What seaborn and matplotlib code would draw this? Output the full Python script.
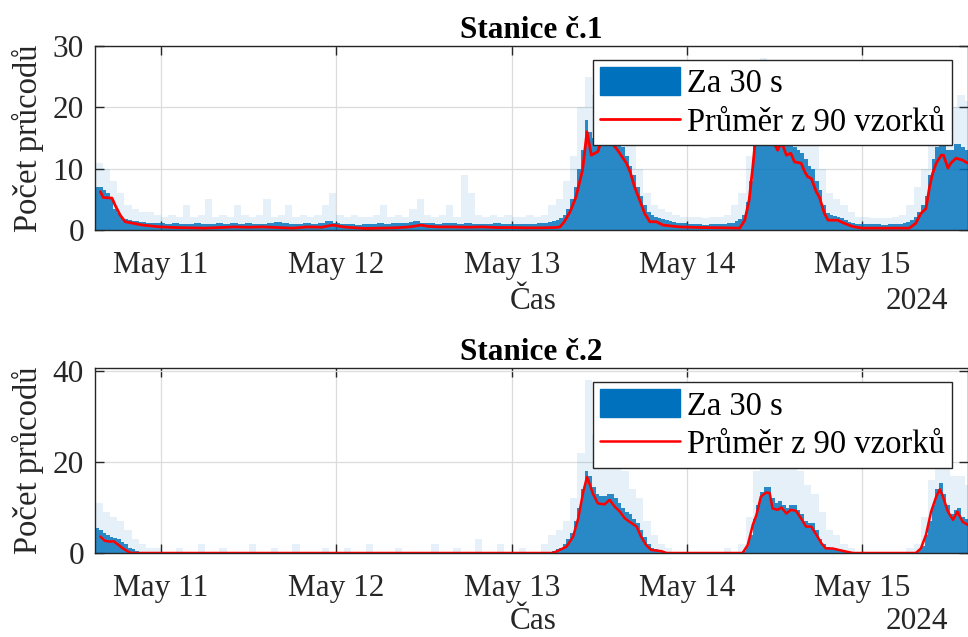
import numpy as np
import pandas as pd
import matplotlib
matplotlib.use("Agg")
import matplotlib.pyplot as plt
import matplotlib.dates as mdates
from matplotlib.patches import Patch
from matplotlib.lines import Line2D
import seaborn as sns

# ---------------- data (hours relative to 2024-05-11 00:00) ----------------
BASE = "2024-05-11 00:00"
core_hours = [h / 2 for h in range(-18, 222)]   # half-hour slots, dense part of the 30 s bars
spike_hours = list(range(-9, 111))              # hourly slots, faint peaks of the 30 s bars

s1_core = [7.0, 7.0, 6.5, 6.0, 5.0, 3.5, 2.8, 2.0, 1.8, 1.6, 1.5, 1.4, 1.3, 1.3, 1.2, 1.2, 1.2, 1.1, 1.2, 1.0, 1.0, 1.1, 1.1, 0.9,
           0.9, 1.0, 1.0, 1.1, 1.2, 1.0, 1.0, 0.9, 0.9, 1.1, 1.1, 1.0, 1.0, 1.2, 1.2, 1.0, 1.0, 1.1, 1.1, 0.9, 0.9, 1.0, 1.0, 1.2,
           1.2, 1.3, 1.3, 1.1, 1.1, 1.0, 1.0, 0.9, 0.9, 1.1, 1.1, 1.0, 1.0, 1.2, 1.2, 1.4, 1.4, 1.2, 1.1, 1.0, 1.0, 0.9, 0.9, 0.8,
           0.8, 0.9, 0.9, 1.0, 1.0, 1.1, 1.1, 1.0, 1.0, 1.2, 1.2, 1.1, 1.1, 1.2, 1.3, 1.5, 1.5, 1.2, 1.2, 1.1, 1.1, 1.0, 1.0, 1.1,
           1.1, 1.2, 1.2, 1.0, 1.0, 1.1, 1.1, 1.0, 1.0, 0.9, 0.9, 1.0, 1.0, 1.1, 1.1, 1.0, 1.0, 1.0, 1.0, 1.0, 0.9, 0.9, 0.9, 1.0,
           1.0, 1.1, 1.1, 1.2, 1.3, 1.4, 1.6, 2.0, 2.5, 3.5, 5.0, 7.0, 10.0, 13.0, 18.0, 16.0, 15.0, 16.0, 17.0, 17.0, 17.0, 16.0, 15.5, 14.5,
           13.5, 12.0, 10.5, 9.0, 7.0, 5.5, 4.0, 3.0, 2.4, 2.2, 2.0, 1.8, 1.6, 1.5, 1.3, 1.2, 1.2, 1.1, 1.0, 0.9, 0.9, 0.9, 0.8, 0.8,
           0.9, 0.9, 0.9, 1.0, 1.0, 1.1, 1.2, 1.5, 1.8, 2.5, 4.5, 8.0, 14.0, 17.0, 17.0, 17.0, 17.0, 16.0, 16.0, 16.0, 15.0, 14.5, 14.5, 13.5,
           13.0, 12.5, 11.5, 10.5, 10.0, 8.0, 6.5, 4.0, 2.8, 2.4, 2.3, 2.2, 1.9, 1.6, 1.3, 1.1, 1.0, 1.0, 1.0, 0.9, 0.9, 0.9, 0.9, 0.8,
           0.8, 0.9, 0.9, 1.0, 1.0, 1.1, 1.3, 1.6, 2.2, 3.0, 4.0, 5.5, 9.0, 11.5, 13.5, 14.5, 14.5, 13.0, 13.0, 14.0, 14.0, 13.5, 13.0, 13.0]
s1_spike = [11, 10, 8, 6, 4, 3.5, 3, 3, 2.5,
            2.2, 2.5, 2.2, 4, 2.2, 2.5, 5, 2.2, 2.5, 2.2, 4, 2.5, 2.2, 2.5, 5, 2.2, 2.5, 4, 2.2, 2.5, 2.2, 2.5, 4, 6,
            2.5, 2.2, 2.5, 2.2, 2.2, 2.5, 4, 2.2, 2.5, 2.2, 3.5, 5, 2.5, 2.2, 2.5, 4, 2.2, 9, 6, 2.5, 2.2, 2.5, 2.2, 2.5,
            2.2, 2.2, 2.5, 2.2, 2.5, 4, 5, 8, 12, 20, 25, 22, 22, 22, 20, 17, 14, 10, 6, 4, 3.5, 3, 2.5, 2.2,
            2.2, 2.2, 2, 2.2, 2.2, 2.5, 4, 6, 12, 24, 28, 26, 24, 22, 20, 19, 17, 14, 10, 6, 5, 4, 3, 2.2,
            2.2, 2, 2, 2, 2.2, 2.5, 4, 7, 10, 17, 22, 22, 20, 22, 21]
s1_mean_h = [-8.3, -7.9, -6.7, -6.3, -5.6, -4.9, -3.8, -2.5, -0.5,
             0, 2, 4, 6, 8, 10, 12, 14, 16, 18, 20, 22, 23.5, 25, 26, 28, 30, 32, 34, 35.6, 36.5, 38, 40, 42, 44, 46, 48, 50, 52, 54,
             54.6, 55.2, 56.0, 56.8, 57.7, 58.3, 58.9, 59.8, 60.3, 60.8, 61.4, 61.9, 62.5, 63.7, 64.2, 64.8, 65.5, 66.2, 66.9, 67.8, 68.7,
             71.0, 74.0, 77.0, 79.2, 79.9, 80.5, 81.0, 81.3, 81.8, 82.5, 83.2, 83.7, 84.4, 84.9, 85.6, 86.2, 86.7, 87.6, 88.1, 88.5,
             89.0, 89.7, 90.1, 90.8, 91.3, 92.6, 93.5, 94.7, 96.0, 99.0, 102.4, 103.3, 104.0, 104.7, 105.2, 105.6, 106.1, 106.8,
             107.1, 107.7, 108.1, 108.8, 109.7, 110.4]
s1_mean_v = [6.25, 5.3, 5.2, 4.1, 2.45, 1.35, 1.1, 0.8, 0.55,
             0.5, 0.4, 0.35, 0.3, 0.4, 0.5, 0.45, 0.5, 0.4, 0.3, 0.5, 0.45, 0.8, 0.5, 0.4, 0.25, 0.3, 0.35, 0.5, 0.8, 0.6, 0.5, 0.5, 0.45, 0.5, 0.4, 0.4, 0.35, 0.35, 0.4,
             0.5, 1.35, 3.0, 5.4, 9.8, 16.0, 12.2, 12.8, 14.7, 15.5, 15.0, 13.9, 13.0, 10.9, 9.5, 7.1, 4.9, 2.7, 1.35, 1.35, 0.8,
             0.5, 0.4, 0.35, 0.3, 1.6, 4.9, 10.3, 14.1, 15.5, 15.0, 15.5, 14.7, 13.0, 14.4, 12.2, 12.5, 11.1, 10.9, 9.5, 8.7,
             8.4, 6.2, 5.4, 2.7, 1.6, 1.6, 1.1, 0.55, 0.3, 0.3, 0.3, 1.1, 2.7, 3.5, 7.1, 9.2, 10.9, 12.2,
             12.2, 10.1, 10.9, 11.7, 11.4, 10.9]

s2_core = [5.5, 5.0, 4.5, 4.0, 3.5, 3.2, 3.0, 2.4, 2.0, 1.2, 0.8, 0.4, 0.3, 0.2, 0.2, 0.1, 0.1, 0, 0.1, 0, 0, 0, 0, 0.1,
           0, 0, 0, 0, 0.1, 0, 0, 0, 0, 0, 0, 0, 0, 0, 0, 0.1, 0, 0, 0, 0, 0, 0, 0, 0,
           0, 0, 0, 0.1, 0, 0, 0, 0, 0, 0, 0, 0, 0, 0, 0, 0, 0, 0, 0.1, 0, 0, 0, 0, 0,
           0, 0, 0, 0, 0, 0, 0, 0, 0, 0, 0, 0, 0.1, 0, 0, 0, 0, 0, 0, 0, 0, 0, 0, 0,
           0, 0, 0, 0, 0, 0, 0.1, 0, 0, 0, 0, 0, 0, 0, 0, 0, 0, 0, 0, 0, 0, 0.1, 0, 0,
           0, 0, 0.1, 0.1, 0.2, 0.4, 0.8, 1.2, 2.0, 3.0, 4.5, 7.0, 10.0, 14.0, 18.0, 17.0, 14.5, 13.0, 12.5, 12.5, 13.0, 13.0, 12.0, 11.0,
           10.0, 9.0, 8.5, 7.5, 6.5, 5.0, 3.5, 2.0, 1.2, 0.9, 0.7, 0.5, 0.3, 0.1, 0, 0, 0, 0, 0, 0, 0, 0, 0, 0,
           0, 0, 0, 0, 0, 0, 0, 0, 0, 0.5, 1.5, 4.0, 7.5, 10.5, 13.5, 14.5, 14.5, 12.0, 11.0, 11.5, 10.5, 10.0, 10.5, 10.5,
           9.5, 8.5, 7.0, 6.5, 6.5, 5.0, 3.0, 2.0, 1.3, 1.2, 1.0, 0.8, 0.5, 0.3, 0.1, 0, 0, 0, 0, 0, 0, 0, 0, 0,
           0, 0, 0, 0, 0, 0, 0, 0, 0.1, 0.6, 1.5, 4.0, 7.0, 10.5, 14.0, 15.5, 13.0, 10.5, 8.5, 9.5, 10.0, 8.0, 7.5, 7.0]
s2_spike = [11, 9, 8, 7, 5, 3, 2, 1, 1,
            0, 0, 1, 0, 0, 2, 0, 0, 1, 0, 0, 0, 2, 0, 0, 1, 0, 0, 2, 0, 0, 0, 1, 0,
            0, 1, 0, 0, 2, 0, 0, 0, 1, 0, 0, 0, 0, 2, 0, 0, 1, 0, 0, 3, 0, 0, 2, 0,
            0, 1, 0, 0, 2, 4, 5, 7, 12, 22, 38, 26, 24, 24, 22, 18, 14, 12, 7, 4, 2, 1, 0, 0,
            0, 0, 0, 0, 0, 1, 0, 2, 8, 18, 24, 26, 22, 20, 20, 18, 15, 13, 9, 5, 4, 2, 1, 0,
            0, 0, 0, 0, 0, 0, 1, 2, 8, 16, 22, 20, 17, 17, 15]
s2_mean_h = [-8.3, -7.7, -7.0, -6.5, -5.8, -5.2, -4.5, -4.1, 10, 30, 53.5,
             54.1, 55.5, 56.4, 57.1, 57.8, 58.3, 58.7, 59.1, 59.8, 60.7, 61.4, 62.1, 62.8, 63.5, 64.1, 65.1, 65.7, 66.4, 67.1, 68.5, 69.2,
             75.0, 79.6, 80.3, 81.0, 81.5, 82.1, 82.8, 83.3, 83.7, 84.4, 84.9, 85.6, 86.2, 86.9, 87.6, 88.3, 89.0, 89.7, 90.4, 91.0,
             91.9, 92.8, 93.8, 94.7, 100.0, 103.3, 104.0, 104.7, 105.4, 106.1, 106.6, 107.0, 107.7, 108.4, 109.0, 109.7, 110.4]
s2_mean_v = [3.6, 2.7, 2.5, 2.6, 1.75, 1.0, 0.3, 0.0, 0.0, 0.0, 0.0,
             0.3, 1.4, 3.6, 7.6, 13.5, 16.7, 15.0, 13.1, 10.9, 10.7, 11.7, 10.2, 9.1, 7.6, 6.9, 5.8, 3.6, 1.75, 0.66, 0.4, 0.0,
             0.0, 0.0, 1.75, 6.2, 8.4, 12.4, 13.3, 13.2, 9.8, 9.5, 10.0, 8.7, 9.5, 9.3, 7.6, 5.8, 5.8, 4.0, 2.1, 1.0,
             1.0, 0.66, 0.3, 0.0, 0.0, 0.0, 1.0, 4.0, 9.1, 12.4, 14.0, 12.5, 9.1, 7.3, 9.1, 6.9, 6.2]

titles = ["Stanice \u010d.1", "Stanice \u010d.2"]
ylabel = "Po\u010det pr\u016fcod\u016f"
xlabel = "\u010cas"
year_label = "2024"
legend_labels = ["Za 30 s", "Pr\u016fm\u011br z 90 vzork\u016f"]
tick_dates = ["2024-05-11", "2024-05-12", "2024-05-13", "2024-05-14", "2024-05-15"]
tick_labels = ["May 11", "May 12", "May 13", "May 14", "May 15"]
yticks = [[0, 10, 20, 30], [0, 20, 40]]
ylims = [(0, 30), (0, 40.7)]

# ---------------- style ----------------
sns.set_theme(style="white")
plt.rcParams["font.family"] = ["Liberation Serif", "DejaVu Serif"]
plt.rcParams["axes.unicode_minus"] = False

BLUE = "#0072BD"
DARK = "#262626"
FS = 22.5
FS_BIG = 23.5


def to_num(hours):
    idx = pd.Timestamp(BASE) + pd.to_timedelta(np.asarray(hours, dtype=float), unit="h")
    return mdates.date2num(idx.to_pydatetime())


fig = plt.figure(figsize=(9.68, 6.37), dpi=100)
W, H = 968.0, 637.0
ax1 = fig.add_axes([95 / W, 1 - 230 / H, 873 / W, 184 / H])
ax2 = fig.add_axes([95 / W, 1 - 553 / H, 873 / W, 185 / H])

series = [(s1_core, s1_spike, s1_mean_h, s1_mean_v, 2.0),
          (s2_core, s2_spike, s2_mean_h, s2_mean_v, 1.8)]

cx = to_num(core_hours)
sx = to_num(spike_hours)
xlim = to_num([-9.03, 110.45])
tick_pos = mdates.date2num(pd.to_datetime(tick_dates).to_pydatetime())
label_drop = [79.0, 76.0]  # px from axis bottom to baseline of "Čas"/"2024"

for i, (ax, (core, spike, mh, mv, lw), title, yt, yl) in enumerate(
        zip([ax1, ax2], series, titles, yticks, ylims)):
    ax.set_axisbelow(True)
    ax.bar(sx, spike, width=1 / 24, align="edge", color=BLUE, alpha=0.10, linewidth=0)
    ax.bar(cx, core, width=1 / 48, align="edge", color=BLUE, alpha=0.82, linewidth=0)
    df = pd.DataFrame({"t": to_num(mh), "v": mv})
    sns.lineplot(data=df, x="t", y="v", ax=ax, color="#FF0000", linewidth=lw,
                 estimator=None, sort=False, legend=False)

    ax.set_xlim(xlim)
    ax.set_ylim(yl)
    ax.set_yticks(yt)
    ax.set_xticks(tick_pos)
    ax.set_xticklabels(tick_labels)
    ax.grid(True, color="#dcdcdc", linewidth=0.9)
    for sp in ax.spines.values():
        sp.set_color(DARK)
        sp.set_linewidth(1.0)
        sp.set_visible(True)
    ax.tick_params(axis="both", which="major", direction="in", length=6.5, width=1.0,
                   color=DARK, labelcolor=DARK, labelsize=FS, top=True, right=True,
                   bottom=True, left=True)
    ax.tick_params(axis="x", pad=15)
    ax.tick_params(axis="y", pad=8)
    ax.set_title(title, fontsize=FS, fontweight="bold", color="black", pad=6)
    ax.set_ylabel(ylabel, fontsize=FS_BIG, color=DARK, labelpad=6)
    ax.set_xlabel(xlabel, fontsize=FS, color=DARK)
    ax.xaxis.label.set_va("baseline")
    ax_h_px = ax.get_position().height * H
    ax.xaxis.set_label_coords(0.5017, -label_drop[i] / ax_h_px)
    ax.annotate(year_label, xy=(0.977, 0), xycoords="axes fraction",
                xytext=(0, -label_drop[i] * 0.72), textcoords="offset points",
                ha="right", va="baseline", fontsize=FS, color=DARK)

    handles = [Patch(facecolor=BLUE, edgecolor=BLUE),
               Line2D([], [], color="#FF0000", linewidth=lw)]
    leg = ax.legend(handles, legend_labels, loc="upper right",
                    bbox_to_anchor=(0.9817, 0.924), borderaxespad=0, fontsize=FS_BIG,
                    frameon=True, fancybox=False, framealpha=1, edgecolor=DARK,
                    handlelength=2.45, handleheight=0.95, handletextpad=0.2,
                    borderpad=0.22, labelspacing=0.2)
    leg.get_frame().set_linewidth(1.0)
    for txt in leg.get_texts():
        txt.set_color("black")

fig.savefig("out.png", dpi=100)
